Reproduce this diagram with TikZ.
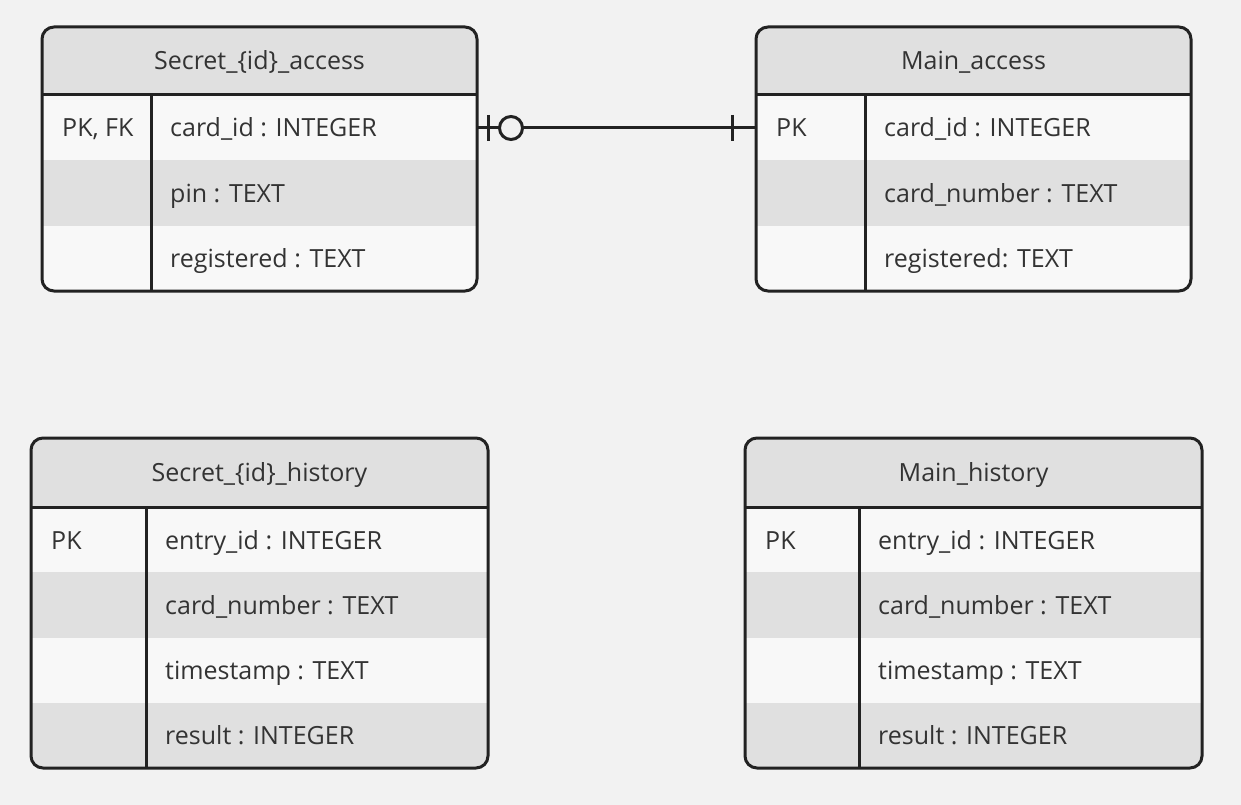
\documentclass[tikz,border=0pt]{standalone}
\usepackage{fontspec}
\setmainfont{Open Sans}
\usetikzlibrary{calc}
\definecolor{bg}{HTML}{F2F2F2}
\definecolor{hdr}{HTML}{E0E0E0}
\definecolor{rowl}{HTML}{F8F8F8}
\definecolor{rowd}{HTML}{E0E0E0}
\definecolor{ln}{HTML}{222222}
\definecolor{txt}{HTML}{333333}
\tikzset{
  tline/.style={draw=ln, line width=3pt},
  tframe/.style={draw=ln, line width=3pt, rounded corners=12pt, inner sep=0pt, rectangle},
  cell/.style={anchor=base west, inner sep=0pt, text=txt, font=\fontsize{25}{30}\selectfont},
  ttl/.style={anchor=base, inner sep=0pt, text=txt, font=\fontsize{25}{30}\selectfont},
}
\newcommand{\ertbl}[9]{%
  % #1 name, #2 x1, #3 y1, #4 x2, #5 y2, #6 header bottom, #7 divider x, #8 title, #9 row height
  \begin{scope}
    \clip[rounded corners=12pt] (#2,#3) rectangle (#4,#5);
    \fill[bg] (#2,#3) rectangle (#4,#5);
    \fill[hdr] (#2,#3) rectangle (#4,#6);
    \foreach \i in {0,1,2,3,4} {
      \pgfmathsetmacro{\ya}{#6+\i*#9}
      \pgfmathsetmacro{\yb}{#6+(\i+1)*#9}
      \pgfmathparse{int(mod(\i,2))}
      \ifnum\pgfmathresult=0 \fill[rowl] (#2,\ya) rectangle (#4,\yb);
      \else \fill[rowd] (#2,\ya) rectangle (#4,\yb); \fi
    }
  \end{scope}
  \draw[tline] (#2,#6) -- (#4,#6);
  \draw[tline] (#7,#6) -- (#7,#5);
  \node[tframe, minimum width={#4-#2}, minimum height={#5-#3}] (#1) at ({(#2+#4)/2},{(#3+#5)/2}) {};
  \node[ttl] (#1-title) at ({(#2+#4)/2},{(#3+#6)/2+9}) {#8};
}
\begin{document}
\begin{tikzpicture}[x=1pt,y=-1pt]
\fill[bg] (0,0) rectangle (1241,805);
\useasboundingbox (0,0) rectangle (1241,805);

% Secret access
\ertbl{sa}{42}{27}{477}{291}{95}{151}{Secret\_\{id\}\_access}{65.3}
\node[cell] (sa-k1) at (62,137) {PK, FK};
\node[cell] (sa-v1) at (170,137) {card\_id : INTEGER};
\node[cell] (sa-v2) at (170,202) {pin : TEXT};
\node[cell] (sa-v3) at (170,267) {registered : TEXT};

% Main access
\ertbl{ma}{756}{27}{1191}{291}{95}{865}{Main\_access}{65.3}
\node[cell] (ma-k1) at (776,137) {PK};
\node[cell] (ma-v1) at (884,137) {card\_id : INTEGER};
\node[cell] (ma-v2) at (884,202) {card\_number : TEXT};
\node[cell] (ma-v3) at (884,267) {registered: TEXT};

% Secret history
\ertbl{sh}{31}{438}{488}{768}{507}{146}{Secret\_\{id\}\_history}{65.25}
\node[cell] (sh-k1) at (51,549) {PK};
\node[cell] (sh-v1) at (165,549) {entry\_id : INTEGER};
\node[cell] (sh-v2) at (165,614) {card\_number : TEXT};
\node[cell] (sh-v3) at (165,679) {timestamp : TEXT};
\node[cell] (sh-v4) at (165,744) {result : INTEGER};

% Main history
\ertbl{mh}{745}{438}{1202}{768}{507}{859}{Main\_history}{65.25}
\node[cell] (mh-k1) at (765,549) {PK};
\node[cell] (mh-v1) at (878,549) {entry\_id : INTEGER};
\node[cell] (mh-v2) at (878,614) {card\_number : TEXT};
\node[cell] (mh-v3) at (878,679) {timestamp : TEXT};
\node[cell] (mh-v4) at (878,744) {result : INTEGER};

% relationship
\coordinate (sa-r1) at (477,128);
\coordinate (ma-r1) at (756,128);
\draw[tline] (sa-r1) -- (ma-r1);
\draw[tline] ($(sa-r1)+(11,-13)$) -- ($(sa-r1)+(11,13)$);
\draw[tline, fill=bg] ($(sa-r1)+(34,0)$) circle (11.5pt);
\draw[tline] ($(ma-r1)+(-24,-13)$) -- ($(ma-r1)+(-24,13)$);
\end{tikzpicture}
\end{document}
